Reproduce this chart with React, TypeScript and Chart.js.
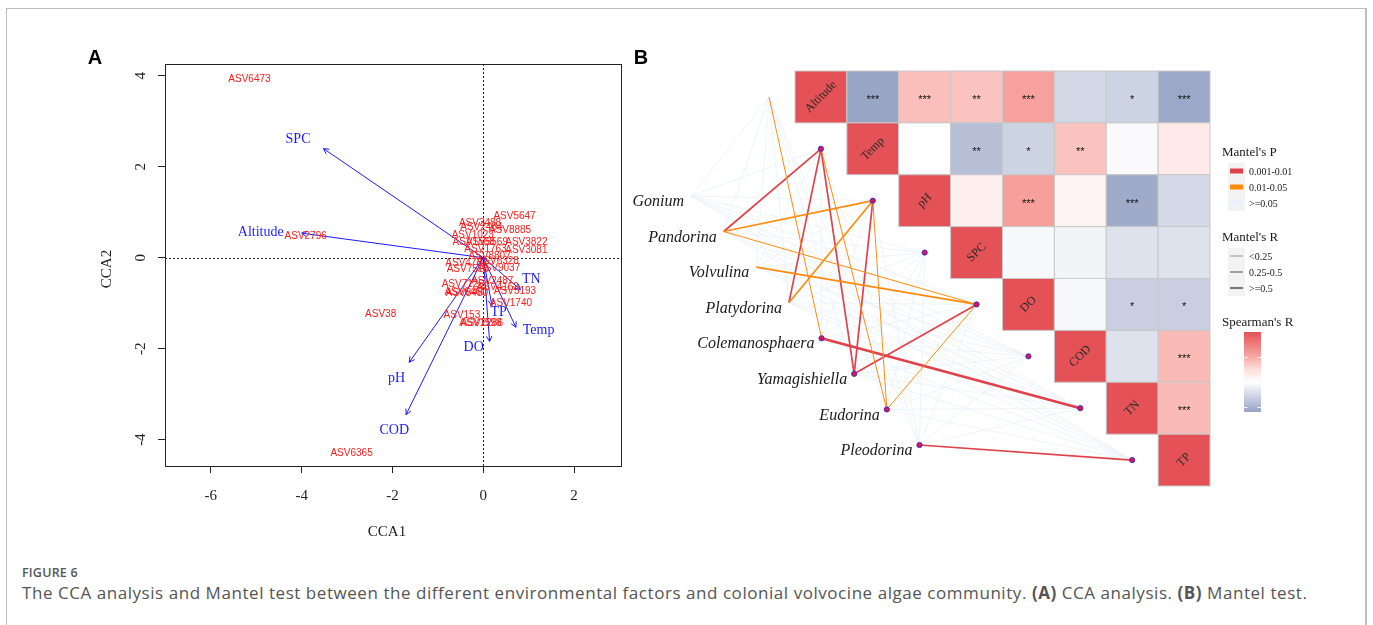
import React, { useEffect, useRef } from "react";
import { Chart, registerables } from "chart.js";

Chart.register(...registerables);

const W = 1373;
const H = 625;
const SERIF = '"Liberation Serif", "Times New Roman", Times, serif';
const SANS = '"Liberation Sans", Arial, Helvetica, sans-serif';

// ================= Panel A : CCA =================
const asvNames = ["ASV6473", "ASV2796", "ASV38", "ASV6365", "ASV5647", "ASV3488", "ASV2484", "ASV8885", "ASV1023", "ASV1568", "ASV5569", "ASV3822", "ASV3081", "ASV1763", "ASV8807", "ASV6328", "ASV4732", "ASV7516", "ASV9037", "ASV2487", "ASV7126", "ASV4162", "ASV5193", "ASV6460", "ASV8480", "ASV1740", "ASV153", "ASV1598", "ASV2286"];
const asvCCA1 = [-5.15, -3.91, -2.26, -2.9, 0.69, -0.07, -0.04, 0.59, -0.23, -0.21, 0.08, 0.95, 0.95, 0.05, 0.14, 0.32, -0.37, -0.34, 0.35, 0.2, -0.45, 0.32, 0.7, -0.39, -0.36, 0.61, -0.47, -0.06, -0.03];
const asvCCA2 = [3.92, 0.47, -1.24, -4.3, 0.92, 0.75, 0.66, 0.6, 0.5, 0.35, 0.33, 0.33, 0.165, 0.18, 0.04, -0.08, -0.13, -0.25, -0.24, -0.52, -0.59, -0.66, -0.73, -0.77, -0.79, -1.01, -1.27, -1.43, -1.43];

const envNames = ["Altitude", "Temp", "pH", "SPC", "DO", "COD", "TN", "TP"];
const envCCA1 = [-4.0, 0.72, -1.63, -3.52, 0.14, -1.7, 0.82, 0.19];
const envCCA2 = [0.54, -1.53, -2.3, 2.4, -1.84, -3.45, -0.7, -1.05];
const envLabelCCA1 = [-4.9, 1.22, -1.91, -4.08, -0.21, -1.96, 1.06, 0.34];
const envLabelCCA2 = [0.56, -1.6, -2.65, 2.61, -1.97, -3.8, -0.47, -1.2];

const cca1Ticks = [-6, -4, -2, 0, 2];
const cca2Ticks = [-4, -2, 0, 2, 4];

// ================= Panel B : Mantel test =================
const speciesNames = ["Gonium", "Pandorina", "Volvulina", "Platydorina", "Colemanosphaera", "Yamagishiella", "Eudorina", "Pleodorina"];

// Spearman's R, upper triangle (row i, columns i..7)
const spearmanR = [
  [1.0, -0.58, 0.4, 0.38, 0.55, -0.26, -0.29, -0.57],
  [1.0, 0.0, -0.41, -0.29, 0.38, -0.03, 0.15],
  [1.0, 0.12, 0.56, 0.08, -0.55, -0.25],
  [1.0, -0.04, -0.07, -0.19, -0.19],
  [1.0, -0.04, -0.31, -0.31],
  [1.0, -0.19, 0.42],
  [1.0, 0.42],
  [1.0],
];
const spearmanStars = [
  ["", "***", "***", "**", "***", "", "*", "***"],
  ["", "", "**", "*", "**", "", ""],
  ["", "", "***", "", "***", ""],
  ["", "", "", "", ""],
  ["", "", "*", "*"],
  ["", "", "***"],
  ["", "***"],
  [""],
];

// Mantel's P class per species x env: 0 = 0.001-0.01, 1 = 0.01-0.05, 2 = >=0.05
const mantelPClass = [
  [2, 2, 2, 2, 2, 2, 2, 2],
  [2, 0, 1, 2, 1, 2, 2, 2],
  [2, 2, 2, 2, 1, 2, 2, 2],
  [2, 0, 1, 2, 2, 2, 2, 2],
  [1, 2, 2, 2, 2, 2, 0, 2],
  [2, 0, 0, 2, 0, 2, 2, 2],
  [2, 1, 1, 2, 1, 2, 2, 2],
  [2, 2, 2, 2, 2, 2, 2, 0],
];
// Mantel's R class: 0 = <0.25, 1 = 0.25-0.5, 2 = >=0.5
const mantelRClass = [
  [0, 0, 0, 0, 0, 0, 0, 0],
  [0, 1, 1, 0, 0, 0, 0, 0],
  [0, 0, 0, 0, 1, 0, 0, 0],
  [0, 1, 1, 0, 0, 0, 0, 0],
  [0, 0, 0, 0, 0, 0, 2, 0],
  [0, 1, 1, 0, 1, 0, 0, 0],
  [0, 0, 0, 0, 0, 0, 0, 0],
  [0, 0, 0, 0, 0, 0, 0, 1],
];
const mantelPBins = ["0.001-0.01", "0.01-0.05", ">=0.05"];
const mantelRBins = ["<0.25", "0.25-0.5", ">=0.5"];
const SPEARMAN_MIN = -0.6;
const SPEARMAN_MAX = 1;
const spearmanTicks = [0.5, -0.5];

// ---------- styles ----------
const P_COLORS = ["#e0414b", "#ff8a0d", "#e9f1fa"];
const R_WIDTHS = [1.0, 1.7, 2.6];
const LEGEND_R_WIDTHS = [0.8, 1.4, 2.1];
// positive side colour stops (t in 0..1), negative side single blue end
const POS_STOPS: [number, number[]][] = [
  [0, [255, 255, 255]],
  [0.25, [253, 222, 219]],
  [0.5, [248, 170, 165]],
  [0.75, [239, 125, 125]],
  [1, [228, 82, 88]],
];
const BLUE = [150, 163, 196];

function fillFor(v: number) {
  let c: number[];
  if (v >= 0) {
    const t = Math.min(1, v / SPEARMAN_MAX);
    let k = 0;
    while (k < POS_STOPS.length - 2 && t > POS_STOPS[k + 1][0]) k++;
    const [t0, c0] = POS_STOPS[k];
    const [t1, c1] = POS_STOPS[k + 1];
    const f = (t - t0) / (t1 - t0);
    c = c0.map((x, j) => x + (c1[j] - x) * f);
  } else {
    const t = Math.min(1, v / SPEARMAN_MIN);
    c = BLUE.map((x) => 255 + (x - 255) * t);
  }
  return `rgb(${Math.round(c[0])},${Math.round(c[1])},${Math.round(c[2])})`;
}

// layout of the species nodes (cell coordinates of panel B)
const SPECIES_START = { x: -2.504, y: 1.908 };
const SPECIES_STEP = { x: 0.629, y: 0.686 };
const speciesPos = (i: number) => ({ x: SPECIES_START.x + SPECIES_STEP.x * i, y: SPECIES_START.y + SPECIES_STEP.y * i });
const envPos = (i: number) => ({ x: i - 1, y: i });

const decorA = {
  id: "decorA",
  beforeDatasetsDraw(chart: any) {
    const { ctx, chartArea: a, scales } = chart;
    const x0 = Math.round(scales.x.getPixelForValue(0)) + 0.5;
    const y0 = Math.round(scales.y.getPixelForValue(0)) + 0.5;
    ctx.save();
    ctx.strokeStyle = "#222";
    ctx.lineWidth = 1;
    ctx.setLineDash([2, 2]);
    ctx.beginPath();
    ctx.moveTo(x0, a.top);
    ctx.lineTo(x0, a.bottom);
    ctx.moveTo(a.left, y0);
    ctx.lineTo(a.right, y0);
    ctx.stroke();
    ctx.restore();
  },
  afterDatasetsDraw(chart: any) {
    const { ctx, chartArea: a, scales } = chart;
    const xs = scales.x;
    const ys = scales.y;
    ctx.save();
    // arrowheads
    ctx.strokeStyle = "#1a1aff";
    ctx.lineWidth = 1;
    envNames.forEach((_, i) => {
      const ox = xs.getPixelForValue(0);
      const oy = ys.getPixelForValue(0);
      const tx = xs.getPixelForValue(envCCA1[i]);
      const ty = ys.getPixelForValue(envCCA2[i]);
      const ang = Math.atan2(ty - oy, tx - ox);
      const L = 6;
      const spread = (28 * Math.PI) / 180;
      ctx.beginPath();
      ctx.moveTo(tx - L * Math.cos(ang - spread), ty - L * Math.sin(ang - spread));
      ctx.lineTo(tx, ty);
      ctx.lineTo(tx - L * Math.cos(ang + spread), ty - L * Math.sin(ang + spread));
      ctx.stroke();
    });
    // ASV labels
    ctx.fillStyle = "#ff1a1a";
    ctx.font = `10px ${SANS}`;
    ctx.textAlign = "center";
    ctx.textBaseline = "middle";
    asvNames.forEach((n, i) => {
      ctx.fillText(n, xs.getPixelForValue(asvCCA1[i]), ys.getPixelForValue(asvCCA2[i]));
    });
    // env labels
    ctx.fillStyle = "#1a1aff";
    ctx.font = `14px ${SERIF}`;
    envNames.forEach((n, i) => {
      ctx.fillText(n, xs.getPixelForValue(envLabelCCA1[i]), ys.getPixelForValue(envLabelCCA2[i]));
    });
    // box
    ctx.strokeStyle = "#222";
    ctx.lineWidth = 1;
    ctx.strokeRect(Math.round(a.left) + 0.5, Math.round(a.top) + 0.5, Math.round(a.right - a.left), Math.round(a.bottom - a.top));
    // y tick labels (rotated like R)
    ctx.fillStyle = "#222";
    ctx.font = `15px ${SERIF}`;
    cca2Ticks.forEach((v) => {
      ctx.save();
      ctx.translate(a.left - 24, ys.getPixelForValue(v));
      ctx.rotate(-Math.PI / 2);
      ctx.fillText(String(v), 0, 0);
      ctx.restore();
    });
    // axis titles
    ctx.font = `15px ${SERIF}`;
    ctx.fillText("CCA1", (a.left + a.right) / 2 - 6, 532);
    ctx.save();
    ctx.translate(107, (a.top + a.bottom) / 2 + 4);
    ctx.rotate(-Math.PI / 2);
    ctx.fillText("CCA2", 0, 0);
    ctx.restore();
    // panel letter
    ctx.fillStyle = "#000";
    ctx.font = `bold 20px ${SANS}`;
    ctx.fillText("A", 95, 58);
    ctx.restore();
  },
};

const decorB = {
  id: "decorB",
  afterDatasetsDraw(chart: any) {
    const { ctx, scales } = chart;
    const xs = scales.x;
    const ys = scales.y;
    ctx.save();
    // stars
    ctx.fillStyle = "#111";
    ctx.font = `11px ${SANS}`;
    ctx.textAlign = "center";
    ctx.textBaseline = "middle";
    spearmanStars.forEach((row, i) =>
      row.forEach((s, k) => {
        if (!s) return;
        ctx.fillText(s, xs.getPixelForValue(i + k), ys.getPixelForValue(i) + 3);
      })
    );
    // diagonal labels
    ctx.fillStyle = "#2a2a2a";
    ctx.font = `12px ${SERIF}`;
    envNames.forEach((n, i) => {
      ctx.save();
      ctx.translate(xs.getPixelForValue(i), ys.getPixelForValue(i));
      ctx.rotate(-Math.PI / 4);
      ctx.fillText(n, 0, 0);
      ctx.restore();
    });
    // species labels
    ctx.fillStyle = "#1a1a1a";
    ctx.font = `italic 16px ${SERIF}`;
    ctx.textAlign = "right";
    speciesNames.forEach((n, i) => {
      const p = speciesPos(i);
      ctx.fillText(n, xs.getPixelForValue(p.x) - 7, ys.getPixelForValue(p.y) + 6);
    });
    ctx.restore();
  },
  afterDraw(chart: any) {
    const { ctx } = chart;
    ctx.save();
    ctx.textBaseline = "middle";
    ctx.fillStyle = "#000";
    ctx.font = `bold 20px ${SANS}`;
    ctx.textAlign = "center";
    ctx.fillText("B", 641, 58);
    ctx.textAlign = "left";

    const keyX = 1228;
    const keyW = 17;
    // Mantel's P
    ctx.fillStyle = "#1a1a1a";
    ctx.font = `13px ${SERIF}`;
    ctx.fillText("Mantel's P", 1222, 153);
    ctx.fillStyle = "#f3f3f3";
    ctx.fillRect(keyX, 163, keyW, 48);
    mantelPBins.forEach((lab, i) => {
      const yy = 171 + i * 16;
      ctx.strokeStyle = P_COLORS[i];
      ctx.lineWidth = 5;
      ctx.beginPath();
      ctx.moveTo(keyX + 2, yy);
      ctx.lineTo(keyX + keyW - 2, yy);
      ctx.stroke();
      ctx.fillStyle = "#1a1a1a";
      ctx.font = `10px ${SERIF}`;
      ctx.fillText(lab, 1249, yy + 1);
    });
    // Mantel's R
    ctx.font = `13px ${SERIF}`;
    ctx.fillText("Mantel's R", 1222, 238);
    ctx.fillStyle = "#f3f3f3";
    ctx.fillRect(keyX, 248, keyW, 48);
    mantelRBins.forEach((lab, i) => {
      const yy = 256 + i * 16;
      ctx.strokeStyle = "#7a7a7a";
      ctx.lineWidth = LEGEND_R_WIDTHS[i];
      ctx.beginPath();
      ctx.moveTo(keyX + 2, yy);
      ctx.lineTo(keyX + keyW - 2, yy);
      ctx.stroke();
      ctx.fillStyle = "#1a1a1a";
      ctx.font = `10px ${SERIF}`;
      ctx.fillText(lab, 1249, yy + 1);
    });
    // Spearman's R colorbar
    ctx.font = `13px ${SERIF}`;
    ctx.fillText("Spearman's R", 1222, 323);
    const cbX = 1244, cbY = 332, cbW = 17, cbH = 80;
    const grad = ctx.createLinearGradient(0, cbY, 0, cbY + cbH);
    for (let s = 0; s <= 32; s++) {
      const v = SPEARMAN_MAX - (s / 32) * (SPEARMAN_MAX - SPEARMAN_MIN);
      grad.addColorStop(s / 32, fillFor(v));
    }
    ctx.fillStyle = grad;
    ctx.fillRect(cbX, cbY, cbW, cbH);
    ctx.strokeStyle = "#ffffff";
    ctx.lineWidth = 1;
    spearmanTicks.forEach((v) => {
      const yy = Math.round(cbY + ((SPEARMAN_MAX - v) / (SPEARMAN_MAX - SPEARMAN_MIN)) * cbH) + 0.5;
      ctx.beginPath();
      ctx.moveTo(cbX, yy);
      ctx.lineTo(cbX + 3.5, yy);
      ctx.moveTo(cbX + cbW - 3.5, yy);
      ctx.lineTo(cbX + cbW, yy);
      ctx.stroke();
    });
    ctx.restore();
  },
};

export default function App() {
  const refA = useRef<HTMLCanvasElement>(null);
  const refB = useRef<HTMLCanvasElement>(null);

  useEffect(() => {
    // ---------- Panel A ----------
    const plotA = { left: 165, right: 621, top: 64, bottom: 466 };
    const chartA = new Chart(refA.current as HTMLCanvasElement, {
      type: "scatter",
      data: {
        datasets: [
          {
            label: "ASV",
            data: asvNames.map((_, i) => ({ x: asvCCA1[i], y: asvCCA2[i] })),
            pointRadius: 0,
          },
          ...envNames.map((n, i) => ({
            label: n,
            data: [
              { x: 0, y: 0 },
              { x: envCCA1[i], y: envCCA2[i] },
            ],
            showLine: true,
            borderColor: "#1a1aff",
            borderWidth: 1,
            pointRadius: 0,
          })),
        ],
      } as any,
      options: {
        animation: false,
        responsive: false,
        devicePixelRatio: 1,
        events: [],
        layout: { padding: { top: plotA.top, right: W - plotA.right, left: 0, bottom: 0 } },
        plugins: { legend: { display: false }, tooltip: { enabled: false } },
        scales: {
          x: {
            type: "linear",
            min: -7.01,
            max: 3.035,
            afterBuildTicks: (s: any) => {
              s.ticks = cca1Ticks.map((v) => ({ value: v }));
            },
            afterFit: (s: any) => {
              s.height = H - plotA.bottom;
            },
            grid: { drawOnChartArea: false, drawTicks: true, tickLength: 7, tickColor: "#222", color: "#222" },
            border: { display: false },
            ticks: { color: "#222", font: { family: SERIF, size: 15 }, padding: 14, maxRotation: 0, autoSkip: false },
          },
          y: {
            type: "linear",
            min: -4.58,
            max: 4.26,
            afterBuildTicks: (s: any) => {
              s.ticks = cca2Ticks.map((v) => ({ value: v }));
            },
            afterFit: (s: any) => {
              s.width = plotA.left;
            },
            grid: { drawOnChartArea: false, drawTicks: true, tickLength: 7, tickColor: "#222", color: "#222" },
            border: { display: false },
            ticks: { display: false },
          },
        },
      } as any,
      plugins: [decorA],
    });

    // ---------- Panel B ----------
    const plotB = { left: 795, right: 1210, top: 71, bottom: 486 };
    const cells: any[] = [];
    spearmanR.forEach((row, i) => row.forEach((v, k) => cells.push({ x: i + k, y: i, v })));

    const edges: any[] = [];
    [2, 1, 0].forEach((pc) => {
      speciesNames.forEach((_, s) => {
        envNames.forEach((_, e) => {
          if (mantelPClass[s][e] !== pc) return;
          edges.push({
            data: [speciesPos(s), envPos(e)],
            showLine: true,
            borderColor: P_COLORS[pc],
            borderWidth: pc === 2 ? 0.8 : R_WIDTHS[mantelRClass[s][e]],
            pointRadius: 0,
            clip: false,
            order: pc === 2 ? 3 : 2,
          });
        });
      });
    });
    const nodes = [...speciesNames.map((_, i) => speciesPos(i)), ...envNames.map((_, i) => envPos(i))];

    const chartB = new Chart(refB.current as HTMLCanvasElement, {
      type: "scatter",
      data: {
        datasets: [
          {
            label: "nodes",
            data: nodes,
            pointRadius: 2.6,
            pointBackgroundColor: "#de1347",
            pointBorderColor: "#3a2fd0",
            pointBorderWidth: 1,
            clip: false,
            order: 0,
          },
          ...edges,
          {
            label: "spearman",
            data: cells,
            pointStyle: "rect",
            pointRadius: (c: any) => {
              const xs = c.chart.scales.x;
              return Math.abs(xs.getPixelForValue(1) - xs.getPixelForValue(0)) / Math.SQRT2;
            },
            pointBackgroundColor: (c: any) => (c.raw ? fillFor(c.raw.v) : "#fff"),
            pointBorderColor: "#c9c9c9",
            pointBorderWidth: 1,
            clip: false,
            order: 5,
          },
        ],
      } as any,
      options: {
        animation: false,
        responsive: false,
        devicePixelRatio: 1,
        events: [],
        layout: { padding: { left: plotB.left, right: W - plotB.right, top: plotB.top, bottom: H - plotB.bottom } },
        plugins: { legend: { display: false }, tooltip: { enabled: false } },
        scales: {
          x: { type: "linear", min: -0.5, max: 7.5, display: false },
          y: { type: "linear", min: -0.5, max: 7.5, reverse: true, display: false },
        },
      } as any,
      plugins: [decorB],
    });

    return () => {
      chartA.destroy();
      chartB.destroy();
    };
  }, []);

  const layer: React.CSSProperties = { position: "absolute", left: 0, top: 0, width: W, height: H };
  return (
    <div style={{ position: "absolute", left: 0, top: 0, width: W, height: H, overflow: "hidden", background: "#fff" }}>
      <div
        style={{
          position: "absolute",
          left: 6,
          top: 8,
          width: 1361,
          height: 700,
          boxSizing: "border-box",
          borderTop: "1px solid #bdbdbd",
          borderLeft: "1.5px solid #bdbdbd",
          borderRight: "2px solid #bdbdbd",
        }}
      />
      <div
        style={{
          position: "absolute",
          left: 22,
          top: 564,
          fontFamily: '"Open Sans", sans-serif',
          fontWeight: 600,
          fontSize: 12.5,
          color: "#555",
          letterSpacing: "0.2px",
          whiteSpace: "nowrap",
        }}
      >
        FIGURE 6
      </div>
      <div
        style={{
          position: "absolute",
          left: 22,
          top: 581,
          fontFamily: '"Open Sans", sans-serif',
          fontSize: 17,
          letterSpacing: "0.55px",
          color: "#555",
          whiteSpace: "nowrap",
        }}
      >
        The CCA analysis and Mantel test between the different environmental factors and colonial volvocine algae community.{" "}
        <b>(A)</b> CCA analysis. <b>(B)</b> Mantel test.
      </div>
      <canvas ref={refA} width={W} height={H} style={{ ...layer, width: W, height: H }} />
      <canvas ref={refB} width={W} height={H} style={{ ...layer, width: W, height: H }} />
    </div>
  );
}
